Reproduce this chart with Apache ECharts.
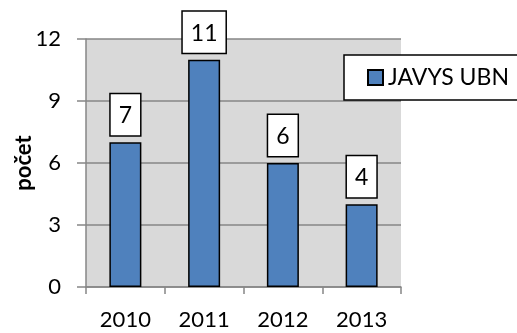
<!DOCTYPE html>
<html>
<head>
<meta charset="utf-8">
<script src="https://cdn.jsdelivr.net/npm/echarts@6/dist/echarts.min.js"></script>
<style>
  html, body { margin: 0; padding: 0; background: #fff; }
  #main { width: 517px; height: 333px; }
</style>
</head>
<body>
<div id="main"></div>
<script>
  // data
  var years = ['2010', '2011', '2012', '2013'];
  var counts = [7, 11, 6, 4];
  var seriesName = 'JAVYS UBN';
  var yTicks = { min: 0, max: 12, step: 3 };

  var chart = echarts.init(document.getElementById('main'));
  var font = 'Lato, "Open Sans", sans-serif';

  var option = {
    animation: false,
    textStyle: { fontFamily: font },
    grid: {
      left: 86, right: 116, top: 39, bottom: 46,
      outerBoundsMode: 'none',
      show: true, backgroundColor: '#d9d9d9', borderWidth: 0
    },
    legend: {
      data: [seriesName],
      left: 344, top: 55,
      padding: [11, 10, 11, 23],
      backgroundColor: '#fff',
      borderColor: '#000', borderWidth: 1.5,
      itemWidth: 15, itemHeight: 15, itemGap: 5,
      icon: 'rect',
      textStyle: { fontSize: 23, color: '#000', fontFamily: font }
    },
    xAxis: {
      type: 'category',
      data: years,
      axisLine: { lineStyle: { color: '#868686', width: 1.5 } },
      axisTick: { show: true, length: 7, lineStyle: { color: '#868686', width: 1.5 } },
      axisLabel: { fontSize: 22, color: '#000', margin: 22, fontFamily: font }
    },
    yAxis: {
      type: 'value',
      min: yTicks.min, max: yTicks.max, interval: yTicks.step,
      name: 'počet',
      nameLocation: 'middle',
      nameGap: 51,
      nameMoveOverlap: false,
      nameTextStyle: { fontSize: 22, fontWeight: 'bold', color: '#000', fontFamily: font },
      axisLine: { show: true, lineStyle: { color: '#868686', width: 1.5 } },
      axisTick: { show: true, length: 9, lineStyle: { color: '#868686', width: 1.5 } },
      axisLabel: { fontSize: 22, color: '#000', margin: 25, fontFamily: font },
      splitLine: { show: true, lineStyle: { color: '#868686', width: 1.5 } }
    },
    series: [{
      name: seriesName,
      type: 'bar',
      data: counts,
      barWidth: 32,
      itemStyle: { color: '#4f81bd', borderColor: '#000', borderWidth: 1.5 },
      label: {
        show: true,
        position: 'top',
        distance: 7,
        fontSize: 23,
        color: '#000',
        fontFamily: font,
        backgroundColor: '#fff',
        borderColor: '#000',
        borderWidth: 1.5,
        padding: [10, 8, 8, 8]
      }
    }]
  };

  chart.setOption(option);
</script>
</body>
</html>
